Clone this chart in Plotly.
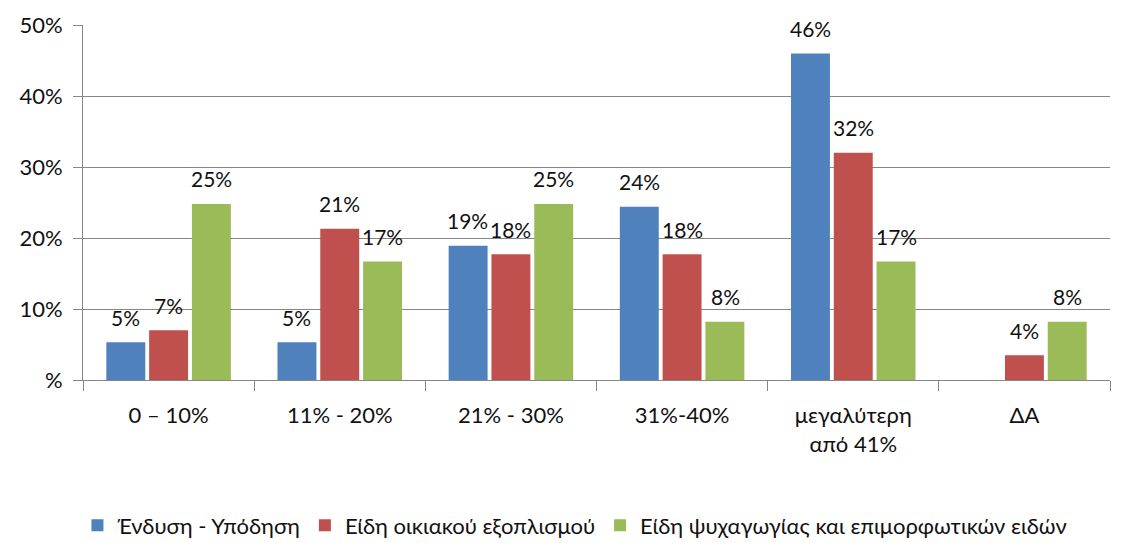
import plotly.graph_objects as go

categories = ["0 – 10%", "11% - 20%", "21% - 30%", "31%-40%", "μεγαλύτερη<br>από 41%", "ΔΑ"]
series_names = ["Ένδυση - Υπόδηση", "Είδη οικιακού εξοπλισμού", "Είδη ψυχαγωγίας και επιμορφωτικών ειδών"]
blue_vals = [5.3, 5.3, 18.9, 24.4, 46.0, None]
red_vals = [7.0, 21.3, 17.7, 17.7, 32.0, 3.5]
green_vals = [24.8, 16.7, 24.8, 8.2, 16.7, 8.2]
colors = ["#4F81BD", "#C0504D", "#9BBB59"]
y_ticks = [0, 10, 20, 30, 40, 50]
y_ticktext = ["%", "10%", "20%", "30%", "40%", "50%"]

FONT = "Lato"
fig = go.Figure()
all_vals = [blue_vals, red_vals, green_vals]
for name, vals, col in zip(series_names, all_vals, colors):
    fig.add_trace(go.Bar(
        x=categories, y=vals, name=name, marker_color=col, marker_line_width=0,
    ))

# data labels
shifts = [-43, 0, 43]
for vals, sh in zip(all_vals, shifts):
    for c, v in zip(categories, vals):
        if v is None:
            continue
        fig.add_annotation(x=c, y=v, text=f"{round(v)}%", showarrow=False,
                           xref="x", yref="y", xshift=sh, yshift=25,
                           font=dict(family=FONT, size=21, color="#111"))

# the page body adds an 8px offset; margins compensate so the plot area matches the reference
fig.update_layout(
    width=1125, height=543,
    margin=dict(l=75, r=23, t=17, b=171, autoexpand=False),
    paper_bgcolor="white", plot_bgcolor="white",
    barmode="group", bargap=0.25, bargroupgap=0.09,
    font=dict(family=FONT, size=21, color="#111"),
    showlegend=True,
    legend=dict(orientation="h", x=0.479, xanchor="center", y=-0.41, yanchor="middle",
                font=dict(family=FONT, size=22, color="#111"),
                itemwidth=30, tracegroupgap=0),
)
fig.update_yaxes(range=[0, 50], tickvals=y_ticks, ticktext=y_ticktext, automargin=False,
                 showgrid=True, gridcolor="#868686", gridwidth=1,
                 showline=True, linecolor="#868686", linewidth=1,
                 ticks="outside", ticklen=9, tickcolor="#868686", ticklabelstandoff=6,
                 ticklabeloverflow="allow",
                 tickfont=dict(family=FONT, size=22, color="#111"), zeroline=False)
fig.update_xaxes(showline=True, linecolor="#868686", linewidth=1, automargin=False,
                 ticks="outside", ticklen=10, tickcolor="#868686", tickson="boundaries",
                 ticklabelstandoff=16, ticklabeloverflow="allow",
                 tickfont=dict(family=FONT, size=22, color="#111"))

fig.write_html("out.html")
